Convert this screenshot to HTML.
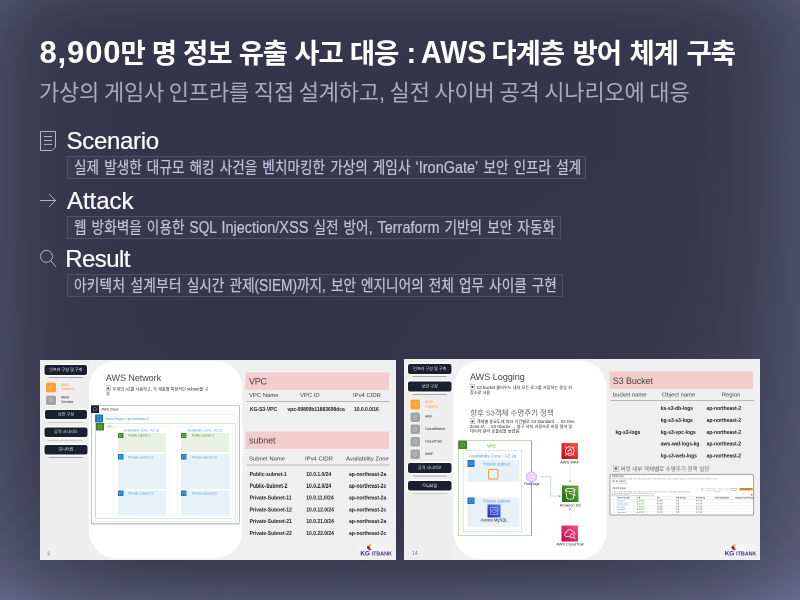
<!DOCTYPE html>
<html lang="ko">
<head>
<meta charset="utf-8">
<title>AWS 다계층 방어 체계 구축</title>
<style>
*{box-sizing:border-box;margin:0;padding:0}
html,body{width:800px;height:600px;overflow:hidden}
body{font-family:"Liberation Sans","Noto Sans CJK KR",sans-serif;background:#34354a;position:relative;color:#fff}
.bg{position:absolute;left:0;top:0;width:800px;height:600px;background:linear-gradient(to right,rgba(140,140,182,0.205) 0.0px,rgba(140,140,182,0.152) 15.0px,rgba(140,140,182,0.102) 30.0px,rgba(140,140,182,0.064) 45.0px,rgba(140,140,182,0.039) 60.0px,rgba(140,140,182,0.018) 82.5px,rgba(140,140,182,0.006) 112.5px,rgba(140,140,182,0.000) 150.0px),linear-gradient(to left,rgba(140,140,182,0.263) 0.0px,rgba(140,140,182,0.195) 20.0px,rgba(140,140,182,0.132) 40.0px,rgba(140,140,182,0.082) 60.0px,rgba(140,140,182,0.050) 80.0px,rgba(140,140,182,0.024) 110.0px,rgba(140,140,182,0.008) 150.0px,rgba(140,140,182,0.000) 200.0px),linear-gradient(to bottom,rgba(140,140,182,0.125) 0.0px,rgba(140,140,182,0.092) 9.0px,rgba(140,140,182,0.062) 18.0px,rgba(140,140,182,0.039) 27.0px,rgba(140,140,182,0.024) 36.0px,rgba(140,140,182,0.011) 49.5px,rgba(140,140,182,0.004) 67.5px,rgba(140,140,182,0.000) 90.0px),linear-gradient(to top,rgba(140,140,182,0.313) 0.0px,rgba(140,140,182,0.232) 10.7px,rgba(140,140,182,0.157) 21.3px,rgba(140,140,182,0.097) 32.0px,rgba(140,140,182,0.059) 42.7px,rgba(140,140,182,0.028) 58.7px,rgba(140,140,182,0.009) 80.0px,rgba(140,140,182,0.000) 106.7px),radial-gradient(circle at 0 100%,rgba(140,140,182,0.200) 0.0px,rgba(140,140,182,0.148) 39.2px,rgba(140,140,182,0.100) 78.3px,rgba(140,140,182,0.062) 117.5px,rgba(140,140,182,0.038) 156.6px,rgba(140,140,182,0.018) 215.4px,rgba(140,140,182,0.006) 293.7px,rgba(140,140,182,0.000) 391.6px),radial-gradient(circle at 100% 100%,rgba(140,140,182,0.215) 0.0px,rgba(140,140,182,0.159) 62.6px,rgba(140,140,182,0.107) 125.1px,rgba(140,140,182,0.067) 187.7px,rgba(140,140,182,0.041) 250.3px,rgba(140,140,182,0.019) 344.1px,rgba(140,140,182,0.006) 469.3px,rgba(140,140,182,0.000) 625.7px),#34354a}
.top{position:absolute;left:0;top:0;width:800px;height:320px;will-change:transform}
.t{position:absolute;white-space:nowrap;display:block}
.t i{font-style:normal;display:inline-block;transform-origin:0 50%}
h1.t{left:39.5px;top:33px;font-size:27.5px;line-height:40px;font-weight:700;color:#fff;letter-spacing:-1.1px;word-spacing:0.6px}
h1.t i{font-size:31px;letter-spacing:0;vertical-align:baseline}
h1.t .l1{letter-spacing:0.85px;margin-right:-0.9px}
h1.t .l2{margin:0 -2.6px 0 1.1px;font-size:29px}
h1.t .l3{transform:scaleX(0.925);margin-right:-7.1px}
h1.t b{font-weight:inherit;word-spacing:2.1px}
.sub{left:39px;top:77px;font-size:22px;line-height:32px;font-weight:400;color:#a9a9c6;letter-spacing:-0.2px;word-spacing:-1.1px}
h2.t{left:66px;font-size:24px;line-height:30px;font-weight:400;color:#fff;-webkit-text-stroke:0.2px #fff}
.ic{position:absolute;left:40px;width:16px;height:20px;overflow:visible}
.box{position:absolute;left:67px;height:23px;border:1px solid #4f5069;background:rgba(255,255,255,0.015)}
.box .t{left:5.9px;top:0;font-weight:400;font-size:16px;line-height:21px;color:#c2c2dc;-webkit-text-stroke:0.22px #c2c2dc;transform:scaleX(0.852);transform-origin:0 50%;word-spacing:1.5px}
.box .t i{display:inline;font-size:17px}
.box .t i.c{font-size:16px}
.slide{position:absolute;overflow:hidden;background:#eeeeee;color:#222}
.slide div,.slide svg,.slide .x{position:absolute;display:block}
.slide .sc{left:0;top:0;transform-origin:0 0;will-change:transform}
.slide .x{white-space:nowrap}
</style>
</head>
<body>
<div class="bg"></div>
<div class="top">
<h1 class="t"><i class="l1">8,900</i>만 명 정보 유출 사고 대응 <i class="l2">:</i> <i class="l3">AWS</i> <b>다계층 방어 체계 구축</b></h1>
<div class="t sub">가상의 게임사 인프라를 직접 설계하고, 실전 사이버 공격 시나리오에 대응</div>

<svg class="ic" style="top:131px" viewBox="0 0 16 20"><path d="M0.5 0.5H15.5V16L12 19.5H0.5Z" fill="none" stroke="#b3b3d2" stroke-width="1" stroke-linejoin="round"/><path d="M4.2 5.5H11.8M4.2 9.5H11.8M4.2 13.4H11.8" stroke="#b3b3d2" stroke-width="1" stroke-linecap="round" fill="none"/></svg>
<h2 class="t" style="top:126px;left:66.5px;letter-spacing:-0.3px">Scenario</h2>
<div class="box" style="top:156px;width:519px"><span class="t">실제 발생한 대규모 해킹 사건을 벤치마킹한 가상의 게임사 <i>‘IronGate’</i> 보안 인프라 설계</span></div>

<svg class="ic" style="top:190px" viewBox="0 0 16 20"><path d="M0.5 10.5H15.3M9.3 4.4L15.4 10.5L9.3 16.6" fill="none" stroke="#b3b3d2" stroke-width="1" stroke-linecap="round" stroke-linejoin="round"/></svg>
<h2 class="t" style="top:186px;left:66.9px;letter-spacing:0">Attack</h2>
<div class="box" style="top:216px;width:494px"><span class="t">웹 방화벽을 이용한 <i class="c">SQL</i> <i>Injection/XSS</i> 실전 방어, <i>Terraform</i> 기반의 보안 자동화</span></div>

<svg class="ic" style="top:249px" viewBox="0 0 16 20"><circle cx="6.5" cy="7.4" r="6" fill="none" stroke="#b3b3d2" stroke-width="1"/><path d="M10.8 11.7L15.6 17.5" stroke="#b3b3d2" stroke-width="1" stroke-linecap="round"/></svg>
<h2 class="t" style="top:244px;left:65.3px;letter-spacing:-0.6px">Result</h2>
<div class="box" style="top:274px;width:496px"><span class="t"><i style="font-size:16px;letter-spacing:0.3px">아키텍처 설계부터</i> 실시간 관제<i class="c">(SIEM)</i>까지, 보안 엔지니어의 전체 업무 사이클 구현</span></div>
</div>
<section class="slide" id="s1" style="left:40px;top:360px;width:356px;height:200px"><div class="sc" style="width:712px;height:400px;transform:scale(0.5)">
<div style="left:0px;top:0px;width:100px;height:400px;background:#eeeeee;"></div>
<div style="left:100px;top:0px;width:2px;height:400px;background:#f3f3f3;"></div>
<div style="left:102px;top:0px;width:610px;height:400px;background:#efefef;"></div>
<div style="left:8.8px;top:10px;width:85.6px;height:19.5px;background:#1a2030;border-radius:4.2px;box-shadow:0 0 0 2px #fff,0 0 2px 2.4px rgba(255,255,255,0.6);"></div>
<span class="x" style="top:14.83px;font-size:8.2px;line-height:9.84px;color:#ececec;letter-spacing:-0.06px;left:8.8px;width:85.6px;text-align:center;">인프라 구성 및 구축</span>
<div style="left:17.2px;top:34.2px;width:68.8px;height:1.6px;background:#a9a9a9;border-radius:0.8px;"></div>
<div style="left:12.2px;top:45px;width:19.6px;height:20px;background:#ffa02e;border-radius:3.8px;box-shadow:0 0 0 1.4px rgba(255,255,255,0.55);"></div>
<div style="left:17.6px;top:50.6px;width:8.8px;height:8.8px;border:1px solid rgba(255,255,255,0.42);border-radius:2.4px;"></div>
<div style="left:20.2px;top:53.2px;width:3.6px;height:3.6px;border:1px solid rgba(255,255,255,0.38);border-radius:50%;"></div>
<span class="x" style="top:45.8px;font-size:7.4px;line-height:8px;color:#ff9a2a;left:42.2px;">AWS</span>
<span class="x" style="top:54px;font-size:7.4px;line-height:8px;color:#ff9a2a;left:42.2px;">Network</span>
<div style="left:12.2px;top:70.6px;width:19.6px;height:19px;background:#a2a2a2;border-radius:3.8px;box-shadow:0 0 0 1.4px rgba(255,255,255,0.55);"></div>
<div style="left:17.6px;top:75.7px;width:8.8px;height:8.8px;border:1px solid rgba(255,255,255,0.42);border-radius:2.4px;"></div>
<div style="left:20.2px;top:78.3px;width:3.6px;height:3.6px;border:1px solid rgba(255,255,255,0.38);border-radius:50%;"></div>
<span class="x" style="top:71.2px;font-size:7.4px;line-height:8px;color:#222;left:42.2px;">AWS</span>
<span class="x" style="top:80px;font-size:7.4px;line-height:8px;color:#222;left:42.2px;">Service</span>
<div style="left:9.6px;top:99.5px;width:84.8px;height:18.7px;background:#1a2030;border-radius:4.2px;box-shadow:0 0 0 2px #fff,0 0 2px 2.4px rgba(255,255,255,0.6);"></div>
<span class="x" style="top:103.93px;font-size:8.2px;line-height:9.84px;color:#ececec;letter-spacing:-0.06px;left:9.6px;width:84.8px;text-align:center;">보안 구성</span>
<div style="left:17.2px;top:123.7px;width:68.8px;height:1.6px;background:#a9a9a9;border-radius:0.8px;"></div>
<div style="left:8.8px;top:135px;width:86px;height:18.8px;background:#1a2030;border-radius:4.2px;box-shadow:0 0 0 2px #fff,0 0 2px 2.4px rgba(255,255,255,0.6);"></div>
<span class="x" style="top:139.48px;font-size:8.2px;line-height:9.84px;color:#ececec;letter-spacing:-0.06px;left:8.8px;width:86px;text-align:center;">공격 시나리오</span>
<div style="left:17.2px;top:159.7px;width:68.8px;height:1.6px;background:#a9a9a9;border-radius:0.8px;"></div>
<div style="left:8.8px;top:170px;width:86px;height:18.8px;background:#1a2030;border-radius:4.2px;box-shadow:0 0 0 2px #fff,0 0 2px 2.4px rgba(255,255,255,0.6);"></div>
<span class="x" style="top:174.48px;font-size:8.2px;line-height:9.84px;color:#ececec;letter-spacing:-0.06px;left:8.8px;width:86px;text-align:center;">모니터링</span>
<div style="left:17.2px;top:194.2px;width:68.8px;height:1.6px;background:#a9a9a9;border-radius:0.8px;"></div>
<div style="left:11px;top:378.6px;width:15px;height:16px;background:radial-gradient(circle,rgba(255,255,255,0.7) 0%,rgba(255,255,255,0) 70%);"></div>
<span class="x" style="top:380.6px;font-size:10.8px;line-height:12px;color:#6a6a6a;left:14.8px;">6</span>
<div style="left:98px;top:2.4px;width:307px;height:394px;background:#fff;border-radius:54px;"></div>
<span class="x" style="top:25.8px;font-size:18px;line-height:20px;color:#444;letter-spacing:-0.1px;left:131.8px;">AWS Network</span>
<span class="x" style="top:50.9px;font-size:10.8px;line-height:12px;color:#222;left:131.2px;">▣</span>
<span class="x" style="top:52.5px;font-size:8.3px;line-height:10px;color:#1c1c1c;left:145.2px;">두개의 AZ를 사용하고, 각 계층별 특정적인 subnet을 구</span>
<span class="x" style="top:61.5px;font-size:8.3px;line-height:10px;color:#1c1c1c;left:131.8px;">성</span>
<div style="left:102.2px;top:90.2px;width:297.2px;height:237.6px;background:#fff;border:1.4px solid #8c8c8c;border-radius:1.6px;box-shadow:0 1px 1.2px rgba(0,0,0,0.25);"></div>
<div style="left:102.2px;top:90.8px;width:15.8px;height:15px;background:#1b2433;"></div>
<div style="left:106px;top:95.2px;width:8.2px;height:6.6px;border:1px solid rgba(255,255,255,0.5);border-radius:2.4px;"></div>
<span class="x" style="top:94.6px;font-size:6.56px;line-height:8px;color:#222;left:123px;">AWS Cloud</span>
<div style="left:109.8px;top:109px;width:285.2px;height:213.8px;border:1.2px dotted #a9caef;border-radius:1.6px;"></div>
<div style="left:109.8px;top:109.4px;width:16.2px;height:15.6px;background:#1b7ac3;"></div>
<div style="left:115.2px;top:112.8px;width:5.6px;height:8.8px;border:1px solid rgba(255,255,255,0.45);"></div>
<span class="x" style="top:113.5px;font-size:6.5px;line-height:8px;color:#3f92da;left:130.5px;">Seoul Region : ap-northeast-2</span>
<div style="left:111.4px;top:125.8px;width:279.8px;height:190.8px;border:1.4px solid #b3d6a0;border-radius:1.6px;"></div>
<div style="left:112.2px;top:126.2px;width:15.8px;height:14.6px;background:#3f8624;"></div>
<div style="left:116px;top:130.4px;width:8.2px;height:6.4px;border:1px solid rgba(255,255,255,0.5);border-radius:2.4px;"></div>
<span class="x" style="top:129.2px;font-size:6.2px;line-height:8px;color:#4c9c2e;left:133px;">VPC</span>
<div style="left:146.8px;top:132.2px;width:112.4px;height:181.8px;background:#fff;border:1.2px dotted #c9dcf3;border-radius:3.2px;"></div>
<span class="x" style="top:137.1px;font-size:6.6px;line-height:8px;color:#5b9fe2;left:147.2px;width:112px;text-align:center;">Availability Zone : AZ 2a</span>
<div style="left:155.5px;top:145.8px;width:96px;height:38px;background:#e8f1e3;"></div>
<div style="left:155.5px;top:145.8px;width:11px;height:10.6px;background:#3f8624;"></div>
<div style="left:158.1px;top:148.4px;width:5.8px;height:5.4px;border:0.9px solid rgba(255,255,255,0.45);"></div>
<span class="x" style="top:147.2px;font-size:6.56px;line-height:8px;color:#4c9c2e;left:176.5px;">Public subnet 1</span>
<div style="left:155.5px;top:188.2px;width:96px;height:69.4px;background:#e6f1f8;"></div>
<div style="left:155.5px;top:188.2px;width:11px;height:10.8px;background:#1b7ac3;"></div>
<div style="left:158.1px;top:190.8px;width:5.8px;height:5.6px;border:0.9px solid rgba(255,255,255,0.45);"></div>
<span class="x" style="top:190.5px;font-size:6.5px;line-height:8px;color:#5f9fe0;left:176.5px;">Private subnet 11</span>
<div style="left:155.5px;top:261.2px;width:96px;height:50px;background:#e6f1f8;"></div>
<div style="left:155.5px;top:261.2px;width:11px;height:10.8px;background:#1b7ac3;"></div>
<div style="left:158.1px;top:263.8px;width:5.8px;height:5.6px;border:0.9px solid rgba(255,255,255,0.45);"></div>
<span class="x" style="top:263px;font-size:6.5px;line-height:8px;color:#5f9fe0;left:176.5px;">Private subnet 21</span>
<div style="left:274.8px;top:132.2px;width:110.8px;height:181.8px;background:#fff;border:1.2px dotted #c9dcf3;border-radius:3.2px;"></div>
<span class="x" style="top:137.1px;font-size:6.6px;line-height:8px;color:#5b9fe2;left:273.8px;width:112px;text-align:center;">Availability Zone : AZ 2c</span>
<div style="left:282.2px;top:145.8px;width:97px;height:38px;background:#e8f1e3;"></div>
<div style="left:282.2px;top:145.8px;width:11px;height:10.6px;background:#3f8624;"></div>
<div style="left:284.8px;top:148.4px;width:5.8px;height:5.4px;border:0.9px solid rgba(255,255,255,0.45);"></div>
<span class="x" style="top:147.2px;font-size:6.56px;line-height:8px;color:#4c9c2e;left:303.4px;">Public subnet 2</span>
<div style="left:282.2px;top:188.2px;width:97px;height:69.4px;background:#e6f1f8;"></div>
<div style="left:282.2px;top:188.2px;width:11px;height:10.8px;background:#1b7ac3;"></div>
<div style="left:284.8px;top:190.8px;width:5.8px;height:5.6px;border:0.9px solid rgba(255,255,255,0.45);"></div>
<span class="x" style="top:190.5px;font-size:6.5px;line-height:8px;color:#5f9fe0;left:303.4px;">Private subnet 12</span>
<div style="left:282.2px;top:261.2px;width:97px;height:50px;background:#e6f1f8;"></div>
<div style="left:282.2px;top:261.2px;width:11px;height:10.8px;background:#1b7ac3;"></div>
<div style="left:284.8px;top:263.8px;width:5.8px;height:5.6px;border:0.9px solid rgba(255,255,255,0.45);"></div>
<span class="x" style="top:263px;font-size:6.5px;line-height:8px;color:#5f9fe0;left:303.4px;">Private subnet 22</span>
<div style="left:410.8px;top:24.8px;width:287.4px;height:35.2px;background:#f4cccc;"></div>
<span class="x" style="top:33px;font-size:18px;line-height:20px;color:#444;letter-spacing:-0.5px;left:418px;">VPC</span>
<span class="x" style="top:63.2px;font-size:11.8px;line-height:14px;color:#404040;left:418px;">VPC Name</span>
<span class="x" style="top:63.2px;font-size:11.8px;line-height:14px;color:#404040;left:520px;">VPC ID</span>
<span class="x" style="top:63.2px;font-size:11.8px;line-height:14px;color:#404040;left:626px;">IPv4 CIDR</span>
<div style="left:412.8px;top:81.8px;width:287.2px;height:2px;background:#b9b9b9;"></div>
<span class="x" style="top:92.5px;font-size:10px;line-height:11px;color:#222;font-weight:700;letter-spacing:-0.04px;left:420px;">KG-S3-VPC</span>
<span class="x" style="top:92.5px;font-size:10px;line-height:11px;color:#222;font-weight:700;letter-spacing:-0.04px;left:494.8px;">vpc-09809b11883698dca</span>
<span class="x" style="top:92.5px;font-size:10px;line-height:11px;color:#222;font-weight:700;letter-spacing:-0.04px;left:628px;">10.0.0.0/16</span>
<div style="left:410.8px;top:142.8px;width:287.4px;height:35.2px;background:#f4cccc;"></div>
<span class="x" style="top:151px;font-size:18px;line-height:20px;color:#444;letter-spacing:-0.2px;left:418px;">subnet</span>
<span class="x" style="top:189.8px;font-size:11.8px;line-height:14px;color:#404040;left:418px;">Subnet Name</span>
<span class="x" style="top:189.8px;font-size:11.8px;line-height:14px;color:#404040;left:530px;">IPv4 CIDR</span>
<span class="x" style="top:189.8px;font-size:11.8px;line-height:14px;color:#404040;left:612px;">Availability Zone</span>
<div style="left:412.8px;top:209px;width:287.2px;height:2px;background:#b9b9b9;"></div>
<span class="x" style="top:222.5px;font-size:10px;line-height:11px;color:#222;font-weight:700;letter-spacing:-0.04px;left:419.2px;">Public-subnet-1</span>
<span class="x" style="top:222.5px;font-size:10px;line-height:11px;color:#222;font-weight:700;letter-spacing:-0.04px;left:532.6px;">10.0.1.0/24</span>
<span class="x" style="top:222.5px;font-size:10px;line-height:11px;color:#222;font-weight:700;letter-spacing:-0.04px;left:618px;">ap-northeast-2a</span>
<span class="x" style="top:246.24px;font-size:10px;line-height:11px;color:#222;font-weight:700;letter-spacing:-0.04px;left:419.2px;">Public-Subnet-2</span>
<span class="x" style="top:246.24px;font-size:10px;line-height:11px;color:#222;font-weight:700;letter-spacing:-0.04px;left:532.6px;">10.0.2.0/24</span>
<span class="x" style="top:246.24px;font-size:10px;line-height:11px;color:#222;font-weight:700;letter-spacing:-0.04px;left:618px;">ap-northeast-2c</span>
<span class="x" style="top:269.98px;font-size:10px;line-height:11px;color:#222;font-weight:700;letter-spacing:-0.04px;left:419.2px;">Private-Subnet-11</span>
<span class="x" style="top:269.98px;font-size:10px;line-height:11px;color:#222;font-weight:700;letter-spacing:-0.04px;left:532.6px;">10.0.11.0/24</span>
<span class="x" style="top:269.98px;font-size:10px;line-height:11px;color:#222;font-weight:700;letter-spacing:-0.04px;left:618px;">ap-northeast-2a</span>
<span class="x" style="top:293.72px;font-size:10px;line-height:11px;color:#222;font-weight:700;letter-spacing:-0.04px;left:419.2px;">Private-Subnet-12</span>
<span class="x" style="top:293.72px;font-size:10px;line-height:11px;color:#222;font-weight:700;letter-spacing:-0.04px;left:532.6px;">10.0.12.0/24</span>
<span class="x" style="top:293.72px;font-size:10px;line-height:11px;color:#222;font-weight:700;letter-spacing:-0.04px;left:618px;">ap-northeast-2c</span>
<span class="x" style="top:317.46px;font-size:10px;line-height:11px;color:#222;font-weight:700;letter-spacing:-0.04px;left:419.2px;">Private-Subnet-21</span>
<span class="x" style="top:317.46px;font-size:10px;line-height:11px;color:#222;font-weight:700;letter-spacing:-0.04px;left:532.6px;">10.0.21.0/24</span>
<span class="x" style="top:317.46px;font-size:10px;line-height:11px;color:#222;font-weight:700;letter-spacing:-0.04px;left:618px;">ap-northeast-2a</span>
<span class="x" style="top:341.2px;font-size:10px;line-height:11px;color:#222;font-weight:700;letter-spacing:-0.04px;left:419.2px;">Private-Subnet-22</span>
<span class="x" style="top:341.2px;font-size:10px;line-height:11px;color:#222;font-weight:700;letter-spacing:-0.04px;left:532.6px;">10.0.22.0/24</span>
<span class="x" style="top:341.2px;font-size:10px;line-height:11px;color:#222;font-weight:700;letter-spacing:-0.04px;left:618px;">ap-northeast-2c</span>
<div style="left:638.8px;top:366.4px;width:66.4px;height:27.2px;background:radial-gradient(ellipse at 50% 60%,rgba(255,255,255,0.55) 0%,rgba(255,255,255,0.25) 55%,rgba(255,255,255,0) 100%);"></div>
<span class="x" style="top:380px;font-size:12.6px;line-height:14px;color:#3a1d86;font-weight:700;letter-spacing:-0.1px;left:640.8px;">KG</span>
<span class="x" style="top:380.2px;font-size:10.8px;line-height:14px;color:#47298f;font-weight:700;letter-spacing:-0.04px;left:663.2px;">ITBANK</span>
<svg style="left:652px;top:366.8px;width:12px;height:15.2px" viewBox="0 0 6 7.6"><path d="M4.9 0.5C5.3 1.3 5.2 2.0 4.6 2.6L1.4 3.2C0.9 2.6 1.0 2.1 1.6 1.7Z" fill="#f7a81e"/><path d="M1.4 3.2C2.6 2.8 3.7 3.3 4.3 4.2L5.3 6.9C3.6 7.2 2.3 6.6 1.5 5.4C1.0 4.6 0.9 3.9 1.4 3.2Z" fill="#e4257d"/><path d="M1.0 3.0C1.8 2.7 2.7 2.8 3.4 3.3L3.9 4.6C2.7 5.0 1.6 4.8 1.0 4.0Z" fill="#3a1d86"/></svg>
</div></section>
<section class="slide" id="s2" style="left:404px;top:359px;width:356px;height:201px"><div class="sc" style="width:712px;height:402px;transform:scale(0.5)">
<div style="left:0px;top:0px;width:101px;height:402px;background:#eeeeee;"></div>
<div style="left:101px;top:0px;width:2px;height:402px;background:#f3f3f3;"></div>
<div style="left:103px;top:0px;width:609px;height:402px;background:#efefef;"></div>
<div style="left:8.2px;top:10px;width:86.4px;height:19.5px;background:#1a2030;border-radius:4.2px;box-shadow:0 0 0 2px #fff,0 0 2px 2.4px rgba(255,255,255,0.6);"></div>
<span class="x" style="top:14.83px;font-size:8.2px;line-height:9.84px;color:#ececec;letter-spacing:-0.06px;left:8.2px;width:86.4px;text-align:center;">인프라 구성 및 구축</span>
<div style="left:17px;top:34.2px;width:69px;height:1.6px;background:#a9a9a9;border-radius:0.8px;"></div>
<div style="left:8.2px;top:45px;width:86.4px;height:20px;background:#1a2030;border-radius:4.2px;box-shadow:0 0 0 2px #fff,0 0 2px 2.4px rgba(255,255,255,0.6);"></div>
<span class="x" style="top:50.08px;font-size:8.2px;line-height:9.84px;color:#ececec;letter-spacing:-0.06px;left:8.2px;width:86.4px;text-align:center;">보안 구성</span>
<div style="left:17px;top:70px;width:69px;height:1.6px;background:#a9a9a9;border-radius:0.8px;"></div>
<div style="left:12.5px;top:80.8px;width:19.5px;height:20px;background:#ffa02e;border-radius:3.8px;box-shadow:0 0 0 1.4px rgba(255,255,255,0.55);"></div>
<div style="left:17.85px;top:86.4px;width:8.8px;height:8.8px;border:1px solid rgba(255,255,255,0.42);border-radius:2.4px;"></div>
<div style="left:20.45px;top:89px;width:3.6px;height:3.6px;border:1px solid rgba(255,255,255,0.38);border-radius:50%;"></div>
<span class="x" style="top:82px;font-size:7.4px;line-height:8px;color:#ff9a2a;left:42px;">AWS</span>
<span class="x" style="top:90.6px;font-size:7.4px;line-height:8px;color:#ff9a2a;left:42px;">Logging</span>
<div style="left:12.5px;top:107px;width:19.1px;height:18.8px;background:#a2a2a2;border-radius:3.8px;box-shadow:0 0 0 1.4px rgba(255,255,255,0.55);"></div>
<div style="left:17.65px;top:112px;width:8.8px;height:8.8px;border:1px solid rgba(255,255,255,0.42);border-radius:2.4px;"></div>
<div style="left:20.25px;top:114.6px;width:3.6px;height:3.6px;border:1px solid rgba(255,255,255,0.38);border-radius:50%;"></div>
<span class="x" style="top:111.4px;font-size:7.4px;line-height:8px;color:#222;left:42px;">IAM</span>
<div style="left:12.5px;top:130.8px;width:19.1px;height:19.2px;background:#a2a2a2;border-radius:3.8px;box-shadow:0 0 0 1.4px rgba(255,255,255,0.55);"></div>
<div style="left:17.65px;top:136px;width:8.8px;height:8.8px;border:1px solid rgba(255,255,255,0.42);border-radius:2.4px;"></div>
<div style="left:20.25px;top:138.6px;width:3.6px;height:3.6px;border:1px solid rgba(255,255,255,0.38);border-radius:50%;"></div>
<span class="x" style="top:136.2px;font-size:7.4px;line-height:8px;color:#222;left:42px;">CloudWatch</span>
<div style="left:12.5px;top:156.2px;width:19.1px;height:19px;background:#a2a2a2;border-radius:3.8px;box-shadow:0 0 0 1.4px rgba(255,255,255,0.55);"></div>
<div style="left:17.65px;top:161.3px;width:8.8px;height:8.8px;border:1px solid rgba(255,255,255,0.42);border-radius:2.4px;"></div>
<div style="left:20.25px;top:163.9px;width:3.6px;height:3.6px;border:1px solid rgba(255,255,255,0.38);border-radius:50%;"></div>
<span class="x" style="top:161.2px;font-size:7.4px;line-height:8px;color:#222;left:42px;">CloudTrail</span>
<div style="left:12.5px;top:181.2px;width:19.1px;height:19px;background:#a2a2a2;border-radius:3.8px;box-shadow:0 0 0 1.4px rgba(255,255,255,0.55);"></div>
<div style="left:17.65px;top:186.3px;width:8.8px;height:8.8px;border:1px solid rgba(255,255,255,0.42);border-radius:2.4px;"></div>
<div style="left:20.25px;top:188.9px;width:3.6px;height:3.6px;border:1px solid rgba(255,255,255,0.38);border-radius:50%;"></div>
<span class="x" style="top:185.6px;font-size:7.4px;line-height:8px;color:#222;left:42px;">WAF</span>
<div style="left:8.2px;top:208.2px;width:86.4px;height:20px;background:#1a2030;border-radius:4.2px;box-shadow:0 0 0 2px #fff,0 0 2px 2.4px rgba(255,255,255,0.6);"></div>
<span class="x" style="top:213.28px;font-size:8.2px;line-height:9.84px;color:#ececec;letter-spacing:-0.06px;left:8.2px;width:86.4px;text-align:center;">공격 시나리오</span>
<div style="left:17px;top:233.2px;width:69px;height:1.6px;background:#a9a9a9;border-radius:0.8px;"></div>
<div style="left:8.2px;top:243.8px;width:86.4px;height:19.4px;background:#1a2030;border-radius:4.2px;box-shadow:0 0 0 2px #fff,0 0 2px 2.4px rgba(255,255,255,0.6);"></div>
<span class="x" style="top:248.58px;font-size:8.2px;line-height:9.84px;color:#ececec;letter-spacing:-0.06px;left:8.2px;width:86.4px;text-align:center;">모니터링</span>
<div style="left:17px;top:268.7px;width:69px;height:1.6px;background:#a9a9a9;border-radius:0.8px;"></div>
<div style="left:12.8px;top:380.6px;width:18px;height:16px;background:radial-gradient(ellipse,rgba(255,255,255,0.7) 0%,rgba(255,255,255,0) 70%);"></div>
<span class="x" style="top:382.6px;font-size:10px;line-height:12px;color:#6a6a6a;letter-spacing:-0.2px;left:16.4px;">14</span>
<div style="left:99.2px;top:2.8px;width:305.6px;height:397.6px;background:#fff;border-radius:54px;"></div>
<span class="x" style="top:26.4px;font-size:18.2px;line-height:20px;color:#444;letter-spacing:-0.1px;left:132px;">AWS Logging</span>
<span class="x" style="top:50.4px;font-size:10.8px;line-height:12px;color:#222;left:131.4px;">▣</span>
<span class="x" style="top:52px;font-size:8.3px;line-height:10px;color:#1c1c1c;left:145.4px;">S3 bucket 클라우드 내의 모든 로그를 저장하는 중앙 저</span>
<span class="x" style="top:61.6px;font-size:8.3px;line-height:10px;color:#1c1c1c;left:132px;">장소로 사용</span>
<span class="x" style="top:99px;font-size:15px;line-height:18px;color:#666;letter-spacing:-0.1px;left:132px;">향후 S3객체 수명주기 정책</span>
<span class="x" style="top:118.6px;font-size:10.8px;line-height:12px;color:#222;left:131.4px;">▣</span>
<span class="x" style="top:120.2px;font-size:8.3px;line-height:10px;color:#1c1c1c;left:145.4px;">객체별 중요도에 따라 기간별로 S3 Standard → S3 One</span>
<span class="x" style="top:129.8px;font-size:8.3px;line-height:10px;color:#1c1c1c;left:132px;">Zone-IA  →  S3 Glacier → 영구 삭제 과정으로 비용 절약 및</span>
<span class="x" style="top:139.4px;font-size:8.3px;line-height:10px;color:#1c1c1c;left:132px;">데이터 관리 효율성을 높였음</span>
<div style="left:108.2px;top:162.6px;width:146.4px;height:191.6px;background:#fff;border:1.4px solid #7fbd68;"></div>
<div style="left:108.6px;top:163.2px;width:17.2px;height:16.4px;background:#3f8624;"></div>
<div style="left:112.8px;top:168px;width:8.8px;height:7px;border:1px solid rgba(255,255,255,0.5);border-radius:2.4px;"></div>
<span class="x" style="top:169px;font-size:9px;line-height:10px;color:#4c9c2e;left:135.2px;width:80px;text-align:center;">VPC</span>
<div style="left:118.4px;top:183px;width:117.2px;height:162.6px;border:1.4px dashed #8db7ea;"></div>
<span class="x" style="top:189.2px;font-size:8.8px;line-height:10px;color:#4f97e0;left:107.4px;width:140px;text-align:center;">Availability Zone : AZ 2a</span>
<div style="left:127px;top:202.2px;width:104px;height:44.2px;background:#e6f1f8;"></div>
<div style="left:127px;top:202.2px;width:13.8px;height:13.6px;background:#1b7ac3;"></div>
<div style="left:130.8px;top:205.8px;width:6.2px;height:6.4px;border:0.9px solid rgba(255,255,255,0.45);"></div>
<span class="x" style="top:205px;font-size:8.6px;line-height:10px;color:#5b9fe2;left:135px;width:100px;text-align:center;">Private subnet</span>
<div style="left:168.4px;top:220.2px;width:21px;height:20.6px;border:2.2px solid #e8a43c;border-radius:3.6px;"></div>
<div style="left:127px;top:276.6px;width:104px;height:59.4px;background:#e6f1f8;"></div>
<div style="left:127px;top:276.6px;width:13.8px;height:13.6px;background:#1b7ac3;"></div>
<div style="left:130.8px;top:280.2px;width:6.2px;height:6.4px;border:0.9px solid rgba(255,255,255,0.45);"></div>
<span class="x" style="top:279.2px;font-size:8.6px;line-height:10px;color:#5b9fe2;left:135px;width:100px;text-align:center;">Private subnet</span>
<div style="left:166.6px;top:290.6px;width:26.8px;height:26.8px;background:linear-gradient(45deg,#2e27ad,#527fff);"></div>
<div style="left:171.8px;top:296px;width:16.4px;height:16px;border:1.2px solid rgba(255,255,255,0.8);border-radius:2px;"></div>
<div style="left:175.2px;top:300.8px;width:9.6px;height:6.4px;border:1px solid rgba(255,255,255,0.8);border-radius:50%;"></div>
<span class="x" style="top:318.2px;font-size:8.2px;line-height:10px;color:#222;left:130px;width:100px;text-align:center;">Aurora MySQL</span>
<div style="left:244.2px;top:224.6px;width:22px;height:22px;background:#e6d2ff;border:1.4px solid #b78bf6;border-radius:50%;"></div>
<div style="left:250.4px;top:230.4px;width:9.6px;height:10.4px;background:#d9bcff;border:1.2px solid #fff;border-radius:2px;"></div>
<div style="left:251.8px;top:234px;width:6.8px;height:1px;background:#fff;"></div>
<div style="left:251.8px;top:236.6px;width:6.8px;height:1px;background:#fff;"></div>
<span class="x" style="top:245.8px;font-size:7.4px;line-height:8px;color:#222;left:225.2px;width:60px;text-align:center;">Flow logs</span>
<svg style="left:268px;top:162px;width:88px;height:216px" viewBox="0 0 44 108"><path d="M2.5 36.8H12.8V56.1H21.6" fill="none" stroke="#9dbdf2" stroke-width="0.6"/><path d="M21 55.1L23 56.1L21 57.1Z" fill="#5b8fe0"/><path d="M32 25V42M32 69.5V84" fill="none" stroke="#a9c6f4" stroke-width="0.5" stroke-dasharray="0.8 0.8"/><rect x="31.3" y="40.6" width="1.4" height="1.4" fill="#4f8fe3"/><rect x="31.3" y="68.4" width="1.4" height="1.4" fill="#4f8fe3"/></svg>
<div style="left:315px;top:168px;width:32.8px;height:31.8px;background:linear-gradient(45deg,#bd0816,#ff5252);"></div>
<svg style="left:315px;top:168px;width:32.8px;height:31.8px" viewBox="0 0 16.4 15.9"><g fill="none" stroke="#fff" stroke-width="0.75" stroke-linecap="round"><circle cx="8.2" cy="8" r="4.3"/><path d="M3.6 3.4L5 4.8M12.8 3.4L11.4 4.8M3.6 12.6L5 11.2M12.8 12.6L11.4 11.2" stroke-width="0.6"/><path d="M8.3 5.4C9.6 6.6 10.4 7.7 10.1 9.1C9.8 10.3 8.9 10.8 8.1 10.8C7 10.8 6.2 10 6.3 8.9C6.4 8.1 6.9 7.7 7.4 7.2C7.5 7.8 7.9 8 8.2 7.8C8.7 7.4 8.6 6.3 8.3 5.4Z" stroke-width="0.6"/></g></svg>
<span class="x" style="top:202.6px;font-size:8.1px;line-height:8px;color:#222;left:291.2px;width:80px;text-align:center;">AWS WAF</span>
<div style="left:316px;top:253.2px;width:32.8px;height:32.8px;background:linear-gradient(45deg,#1b660f,#6cae3e);"></div>
<svg style="left:316px;top:253.2px;width:32.8px;height:32.8px" viewBox="0 0 16.4 16.4"><g fill="none" stroke="#fff" stroke-width="0.75" stroke-linejoin="round" stroke-linecap="round"><path d="M3.6 4.4L5 12.4C5.2 13.2 6.6 13.7 8.2 13.7C9.8 13.7 11.2 13.2 11.4 12.4L12.8 4.4"/><ellipse cx="8.2" cy="4.4" rx="4.6" ry="1.5"/><path d="M7 7.4L12.6 9.6" stroke-width="0.65"/><circle cx="13" cy="9.8" r="0.6" fill="#fff" stroke="none"/></g></svg>
<span class="x" style="top:289px;font-size:8.1px;line-height:8px;color:#222;left:292.4px;width:80px;text-align:center;">Amazon S3</span>
<div style="left:315px;top:332.6px;width:33px;height:32.8px;background:linear-gradient(45deg,#b0084d,#ff4f8b);"></div>
<svg style="left:315px;top:332.6px;width:33px;height:32.8px" viewBox="0 0 16.5 16.4"><g fill="none" stroke="#fff" stroke-width="0.75" stroke-linejoin="round" stroke-linecap="round"><path d="M8 11.2H5.6C4.2 11.2 3.2 10.2 3.2 9C3.2 7.9 4 7 5.1 6.9C5.3 5.3 6.6 4.2 8.2 4.2C9.6 4.2 10.8 5.1 11.2 6.3C12.4 6.4 13.3 7.3 13.4 8.4"/><circle cx="10.6" cy="10.4" r="2"/><path d="M12.1 11.9L13.6 13.4"/></g></svg>
<span class="x" style="top:367.4px;font-size:7.7px;line-height:8px;color:#222;left:291.8px;width:80px;text-align:center;">AWS CloudTrail</span>
<div style="left:410.6px;top:25px;width:287.4px;height:35.4px;background:#f4cccc;"></div>
<span class="x" style="top:33.6px;font-size:18px;line-height:20px;color:#444;letter-spacing:-0.24px;left:417.6px;">S3 Bucket</span>
<span class="x" style="top:64.2px;font-size:11.8px;line-height:14px;color:#404040;left:417.6px;">bucket name</span>
<span class="x" style="top:64.2px;font-size:11.8px;line-height:14px;color:#404040;left:515.8px;">Object name</span>
<span class="x" style="top:64.2px;font-size:11.8px;line-height:14px;color:#404040;left:635.4px;">Region</span>
<div style="left:412.6px;top:81.8px;width:288px;height:2px;background:#b9b9b9;"></div>
<span class="x" style="top:92.9px;font-size:10px;line-height:11px;color:#222;font-weight:700;letter-spacing:-0.04px;left:513.6px;">ks-s3-db-logs</span>
<span class="x" style="top:92.9px;font-size:10px;line-height:11px;color:#222;font-weight:700;letter-spacing:-0.04px;left:605.2px;">ap-northeast-2</span>
<span class="x" style="top:116.7px;font-size:10px;line-height:11px;color:#222;font-weight:700;letter-spacing:-0.04px;left:513.6px;">kg-s3-s3-logs</span>
<span class="x" style="top:116.7px;font-size:10px;line-height:11px;color:#222;font-weight:700;letter-spacing:-0.04px;left:605.2px;">ap-northeast-2</span>
<span class="x" style="top:140.5px;font-size:10px;line-height:11px;color:#222;font-weight:700;letter-spacing:-0.04px;left:513.6px;">kg-s3-vpc-logs</span>
<span class="x" style="top:140.5px;font-size:10px;line-height:11px;color:#222;font-weight:700;letter-spacing:-0.04px;left:605.2px;">ap-northeast-2</span>
<span class="x" style="top:164.3px;font-size:10px;line-height:11px;color:#222;font-weight:700;letter-spacing:-0.04px;left:513.6px;">aws-waf-logs-kg</span>
<span class="x" style="top:164.3px;font-size:10px;line-height:11px;color:#222;font-weight:700;letter-spacing:-0.04px;left:605.2px;">ap-northeast-2</span>
<span class="x" style="top:188.1px;font-size:10px;line-height:11px;color:#222;font-weight:700;letter-spacing:-0.04px;left:513.6px;">kg-s3-web-logs</span>
<span class="x" style="top:188.1px;font-size:10px;line-height:11px;color:#222;font-weight:700;letter-spacing:-0.04px;left:605.2px;">ap-northeast-2</span>
<span class="x" style="top:141.3px;font-size:10px;line-height:11px;color:#222;font-weight:700;letter-spacing:-0.04px;left:423px;">kg-s3-logs</span>
<span class="x" style="top:213px;font-size:12.8px;line-height:14px;color:#555;left:417.2px;">▣</span>
<span class="x" style="top:214.1px;font-size:11px;line-height:13px;color:#6a6a6a;left:433.2px;">버킷 내부 객체별로 수명주기 정책 설정</span>
<div style="left:411.4px;top:230.4px;width:289px;height:82.6px;background:#fff;border:2px solid #a6a6a6;border-radius:3.6px;box-shadow:0 0 1.2px rgba(0,0,0,0.3);"></div>
<span class="x" style="top:232.8px;font-size:3.8px;line-height:5.2px;color:#333;font-weight:700;left:416px;">수명 주기 구성</span>
<span class="x" style="top:238.2px;font-size:2.9px;line-height:4px;color:#8a8a8a;left:416px;">수명 주기 규칙을 사용하여 객체의 수명 주기 동안 Amazon S3에서 수행할 작업을 정의할 수 있습니다. 예를 들어 객체를 다른 스토리지 클래스로 전환하거나 지정된 기간 후 삭제</span>
<span class="x" style="top:242.8px;font-size:3.4px;line-height:4.8px;color:#444;font-weight:700;left:416px;">기본 최소 객체 크기</span>
<span class="x" style="top:246.8px;font-size:2.8px;line-height:4px;color:#999;left:416px;">모든 스토리지 클래스 128K</span>
<span class="x" style="top:257.4px;font-size:3.6px;line-height:5.2px;color:#333;font-weight:700;left:416px;">수명 주기 규칙 (5)</span>
<span class="x" style="top:263.6px;font-size:2.9px;line-height:4px;color:#8a8a8a;left:416px;">수명 주기 규칙을 사용하여 객체의 수명 주기 동안 Amazon S3에서 수행할 작업을 정의합니다. 자세한 내용은 설명서를 참조하세요.</span>
<div style="left:621.2px;top:264.8px;width:11.2px;height:1.2px;background:#8db4ea;"></div>
<div style="left:594.4px;top:258.4px;width:4.8px;height:4.8px;background:#fff;border:0.7px solid #6fa3e6;border-radius:50%;"></div>
<div style="left:602px;top:258.2px;width:23.2px;height:4.8px;background:#fff;border:0.6px solid #c4c4c4;border-radius:2.4px;"></div>
<div style="left:628.4px;top:258.2px;width:9.2px;height:4.8px;background:#fff;border:0.6px solid #c4c4c4;border-radius:2.4px;"></div>
<div style="left:641.2px;top:258.2px;width:7.6px;height:4.8px;background:#fff;border:0.6px solid #c4c4c4;border-radius:2.4px;"></div>
<div style="left:652.4px;top:258.2px;width:14px;height:4.8px;background:#fff;border:0.7px solid #6fa3e6;border-radius:2.4px;"></div>
<div style="left:670.4px;top:258px;width:27.6px;height:5.2px;background:#f59a23;border-radius:2.6px;"></div>
<span class="x" style="top:258.6px;font-size:2.6px;line-height:4px;color:#5a3a00;font-weight:700;left:670.2px;width:28px;text-align:center;">수명 주기 규칙 생성</span>
<div style="left:416.4px;top:269px;width:82.4px;height:5px;background:#fff;border:0.6px solid #b5b5b5;border-radius:0.6px;"></div>
<span class="x" style="top:269.5px;font-size:2.6px;line-height:4px;color:#aaa;left:418.8px;">이름으로 수명 주기 규칙 찾기</span>
<span class="x" style="top:269.2px;font-size:3.6px;line-height:4.8px;color:#999;left:676px;">‹  1  ›</span>
<div style="left:694.4px;top:270px;width:2.8px;height:3.2px;background:#777;border-radius:0.6px;"></div>
<div style="left:415.2px;top:275.2px;width:282.8px;height:0.5px;background:#e2e2e2;"></div>
<div style="left:415.2px;top:281px;width:282.8px;height:0.5px;background:#d8d8d8;"></div>
<span class="x" style="top:276.3px;font-size:3px;line-height:4px;color:#333;font-weight:700;left:426.8px;">수명 주기 규칙 이름</span>
<div style="left:424px;top:276.4px;width:0.5px;height:4px;background:#dcdcdc;"></div>
<span class="x" style="top:276.3px;font-size:3px;line-height:4px;color:#333;font-weight:700;left:466.8px;">상태</span>
<div style="left:464px;top:276.4px;width:0.5px;height:4px;background:#dcdcdc;"></div>
<span class="x" style="top:276.3px;font-size:3px;line-height:4px;color:#333;font-weight:700;left:505.8px;">범위</span>
<div style="left:503px;top:276.4px;width:0.5px;height:4px;background:#dcdcdc;"></div>
<span class="x" style="top:276.3px;font-size:3px;line-height:4px;color:#333;font-weight:700;left:544.6px;">현재 버전 작업</span>
<div style="left:541.8px;top:276.4px;width:0.5px;height:4px;background:#dcdcdc;"></div>
<span class="x" style="top:276.3px;font-size:3px;line-height:4px;color:#333;font-weight:700;left:583.8px;">이전 버전 작업</span>
<div style="left:581px;top:276.4px;width:0.5px;height:4px;background:#dcdcdc;"></div>
<span class="x" style="top:276.3px;font-size:3px;line-height:4px;color:#333;font-weight:700;left:622.6px;">만료된 객체 삭제 마커</span>
<div style="left:619.8px;top:276.4px;width:0.5px;height:4px;background:#dcdcdc;"></div>
<span class="x" style="top:276.3px;font-size:3px;line-height:4px;color:#333;font-weight:700;left:662.4px;">완료되지 않은 멀티파트 업로드</span>
<div style="left:659.6px;top:276.4px;width:0.5px;height:4px;background:#dcdcdc;"></div>
<div style="left:418.8px;top:283.5px;width:2.2px;height:2.2px;background:#fff;border:0.5px solid #bbb;border-radius:50%;"></div>
<span class="x" style="top:282.4px;font-size:3.5px;line-height:4.4px;color:#2f7fe0;left:426.8px;">db-expire</span>
<div style="left:466px;top:283.6px;width:2px;height:2px;background:#3da63d;border-radius:50%;"></div>
<span class="x" style="top:282.4px;font-size:3.1px;line-height:4.4px;color:#3da63d;left:469.2px;">활성화됨</span>
<span class="x" style="top:282.4px;font-size:3.2px;line-height:4.4px;color:#444;left:505.8px;">필터링됨</span>
<span class="x" style="top:282.4px;font-size:3.2px;line-height:4.4px;color:#444;left:544.6px;">만료</span>
<span class="x" style="top:282.4px;font-size:3.2px;line-height:4.4px;color:#444;left:583.8px;">영구 삭제</span>
<span class="x" style="top:282.4px;font-size:3.2px;line-height:4.4px;color:#bbb;left:627px;">-</span>
<span class="x" style="top:282.4px;font-size:3.2px;line-height:4.4px;color:#bbb;left:667px;">-</span>
<div style="left:415.2px;top:287.2px;width:282.8px;height:0.4px;background:#ececec;"></div>
<div style="left:418.8px;top:289.06px;width:2.2px;height:2.2px;background:#fff;border:0.5px solid #bbb;border-radius:50%;"></div>
<span class="x" style="top:287.96px;font-size:3.5px;line-height:4.4px;color:#2f7fe0;left:426.8px;">default-expire</span>
<div style="left:466px;top:289.16px;width:2px;height:2px;background:#3da63d;border-radius:50%;"></div>
<span class="x" style="top:287.96px;font-size:3.1px;line-height:4.4px;color:#3da63d;left:469.2px;">활성화됨</span>
<span class="x" style="top:287.96px;font-size:3.2px;line-height:4.4px;color:#444;left:505.8px;">필터링됨</span>
<span class="x" style="top:287.96px;font-size:3.2px;line-height:4.4px;color:#444;left:544.6px;">만료</span>
<span class="x" style="top:287.96px;font-size:3.2px;line-height:4.4px;color:#444;left:583.8px;">영구 삭제</span>
<span class="x" style="top:287.96px;font-size:3.2px;line-height:4.4px;color:#bbb;left:627px;">-</span>
<span class="x" style="top:287.96px;font-size:3.2px;line-height:4.4px;color:#bbb;left:667px;">-</span>
<div style="left:415.2px;top:292.76px;width:282.8px;height:0.4px;background:#ececec;"></div>
<div style="left:418.8px;top:294.62px;width:2.2px;height:2.2px;background:#fff;border:0.5px solid #bbb;border-radius:50%;"></div>
<span class="x" style="top:293.52px;font-size:3.5px;line-height:4.4px;color:#2f7fe0;left:426.8px;">vpc-expire</span>
<div style="left:466px;top:294.72px;width:2px;height:2px;background:#3da63d;border-radius:50%;"></div>
<span class="x" style="top:293.52px;font-size:3.1px;line-height:4.4px;color:#3da63d;left:469.2px;">활성화됨</span>
<span class="x" style="top:293.52px;font-size:3.2px;line-height:4.4px;color:#444;left:505.8px;">필터링됨</span>
<span class="x" style="top:293.52px;font-size:3.2px;line-height:4.4px;color:#444;left:544.6px;">만료</span>
<span class="x" style="top:293.52px;font-size:3.2px;line-height:4.4px;color:#444;left:583.8px;">영구 삭제</span>
<span class="x" style="top:293.52px;font-size:3.2px;line-height:4.4px;color:#bbb;left:627px;">-</span>
<span class="x" style="top:293.52px;font-size:3.2px;line-height:4.4px;color:#bbb;left:667px;">-</span>
<div style="left:415.2px;top:298.32px;width:282.8px;height:0.4px;background:#ececec;"></div>
<div style="left:418.8px;top:300.18px;width:2.2px;height:2.2px;background:#fff;border:0.5px solid #bbb;border-radius:50%;"></div>
<span class="x" style="top:299.08px;font-size:3.5px;line-height:4.4px;color:#2f7fe0;left:426.8px;">waf-expire</span>
<div style="left:466px;top:300.28px;width:2px;height:2px;background:#3da63d;border-radius:50%;"></div>
<span class="x" style="top:299.08px;font-size:3.1px;line-height:4.4px;color:#3da63d;left:469.2px;">활성화됨</span>
<span class="x" style="top:299.08px;font-size:3.2px;line-height:4.4px;color:#444;left:505.8px;">필터링됨</span>
<span class="x" style="top:299.08px;font-size:3.2px;line-height:4.4px;color:#444;left:544.6px;">만료</span>
<span class="x" style="top:299.08px;font-size:3.2px;line-height:4.4px;color:#444;left:583.8px;">영구 삭제</span>
<span class="x" style="top:299.08px;font-size:3.2px;line-height:4.4px;color:#bbb;left:627px;">-</span>
<span class="x" style="top:299.08px;font-size:3.2px;line-height:4.4px;color:#bbb;left:667px;">-</span>
<div style="left:415.2px;top:303.88px;width:282.8px;height:0.4px;background:#ececec;"></div>
<div style="left:418.8px;top:305.74px;width:2.2px;height:2.2px;background:#fff;border:0.5px solid #bbb;border-radius:50%;"></div>
<span class="x" style="top:304.64px;font-size:3.5px;line-height:4.4px;color:#2f7fe0;left:426.8px;">web-expire</span>
<div style="left:466px;top:305.84px;width:2px;height:2px;background:#3da63d;border-radius:50%;"></div>
<span class="x" style="top:304.64px;font-size:3.1px;line-height:4.4px;color:#3da63d;left:469.2px;">활성화됨</span>
<span class="x" style="top:304.64px;font-size:3.2px;line-height:4.4px;color:#444;left:505.8px;">필터링됨</span>
<span class="x" style="top:304.64px;font-size:3.2px;line-height:4.4px;color:#444;left:544.6px;">만료</span>
<span class="x" style="top:304.64px;font-size:3.2px;line-height:4.4px;color:#444;left:583.8px;">영구 삭제</span>
<span class="x" style="top:304.64px;font-size:3.2px;line-height:4.4px;color:#bbb;left:627px;">-</span>
<span class="x" style="top:304.64px;font-size:3.2px;line-height:4.4px;color:#bbb;left:667px;">-</span>
<div style="left:639.6px;top:368.2px;width:66.4px;height:27.4px;background:radial-gradient(ellipse at 50% 60%,rgba(255,255,255,0.55) 0%,rgba(255,255,255,0.25) 55%,rgba(255,255,255,0) 100%);"></div>
<span class="x" style="top:381.9px;font-size:12.6px;line-height:14px;color:#3a1d86;font-weight:700;letter-spacing:-0.1px;left:641.6px;">KG</span>
<span class="x" style="top:382.1px;font-size:10.8px;line-height:14px;color:#47298f;font-weight:700;letter-spacing:-0.04px;left:664.2px;">ITBANK</span>
<svg style="left:652.8px;top:368.6px;width:12px;height:15.2px" viewBox="0 0 6 7.6"><path d="M4.9 0.5C5.3 1.3 5.2 2.0 4.6 2.6L1.4 3.2C0.9 2.6 1.0 2.1 1.6 1.7Z" fill="#f7a81e"/><path d="M1.4 3.2C2.6 2.8 3.7 3.3 4.3 4.2L5.3 6.9C3.6 7.2 2.3 6.6 1.5 5.4C1.0 4.6 0.9 3.9 1.4 3.2Z" fill="#e4257d"/><path d="M1.0 3.0C1.8 2.7 2.7 2.8 3.4 3.3L3.9 4.6C2.7 5.0 1.6 4.8 1.0 4.0Z" fill="#3a1d86"/></svg>
</div></section>
</body>
</html>
